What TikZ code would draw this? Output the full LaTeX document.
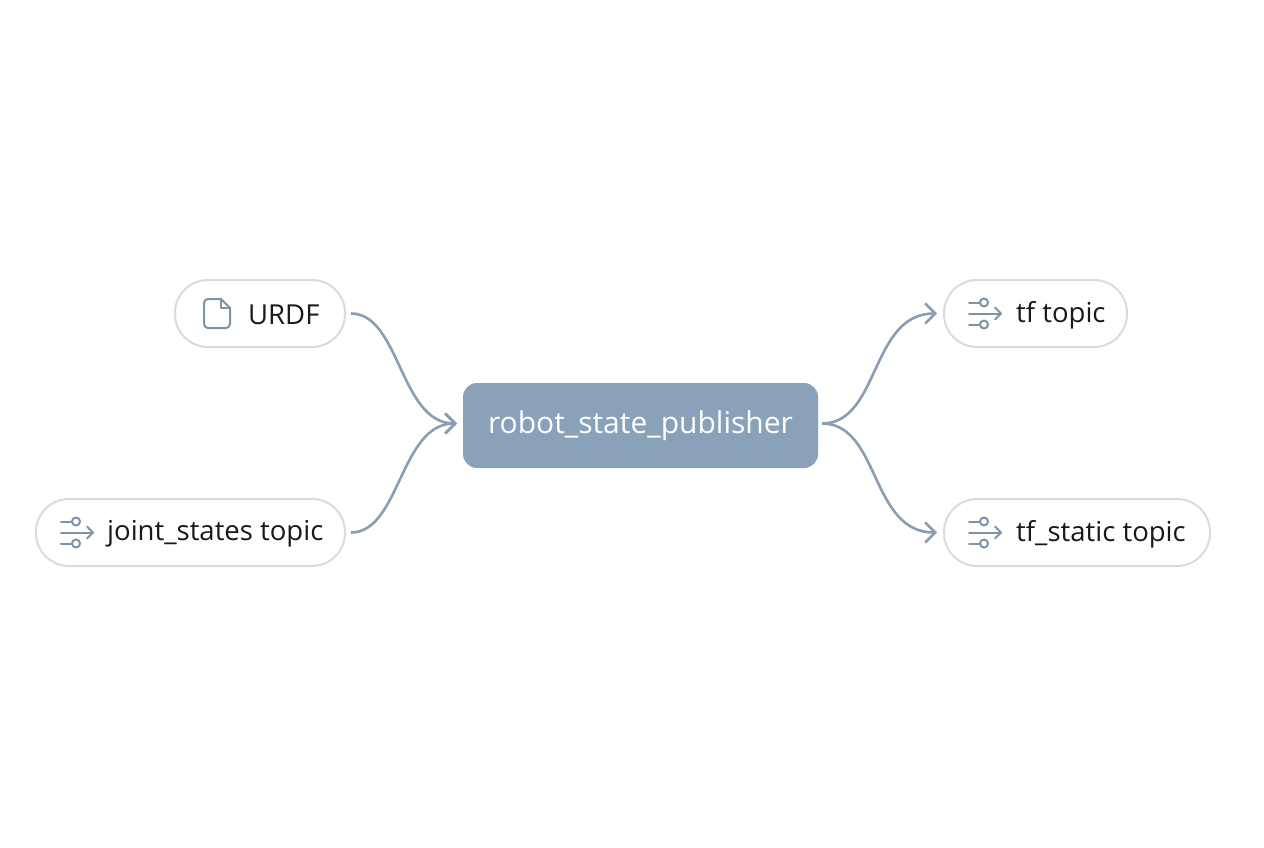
\documentclass[tikz,border=0pt]{standalone}
\usepackage{fontspec}
\setmainfont{Open Sans}
\usetikzlibrary{arrows.meta}
\definecolor{edge}{HTML}{8A9DB3}
\definecolor{bord}{HTML}{D9DBDE}
\definecolor{cfill}{HTML}{8AA1BA}
\definecolor{icon}{HTML}{7F93A8}
\begin{document}
\begin{tikzpicture}[x=1pt,y=-1pt,
  pill/.style={draw=bord,line width=2pt,rounded corners=33pt,minimum height=67pt,inner sep=0pt,fill=white},
  center/.style={fill=cfill,rounded corners=14pt,minimum width=355pt,minimum height=85pt,text=white,font=\fontsize{30}{36}\selectfont},
  lbl/.style={font=\fontsize{27.5}{32}\selectfont,text=black!90,inner sep=0pt,anchor=west},
  conn/.style={draw=edge,line width=2.6pt,-{Straight Barb[length=10pt,width=20pt,line width=2.6pt]}},
  ic/.style={draw=icon,line width=2pt,line cap=round,line join=round},
  topicicon/.pic={
    \draw[ic] (-16,-11)--(-6,-11); \draw[ic] (-1,-11) circle (4);
    \draw[ic] (-16,0)--(16,0); \draw[ic] (10,-6)--(16,0)--(10,6);
    \draw[ic] (-16,11)--(-6,11); \draw[ic] (-1,11) circle (4);
  }]
\useasboundingbox (0,0) rectangle (1264,848);
\fill[white] (0,0) rectangle (1264,848);
\node[pill,minimum width=170pt] (urdf) at (260,313.5) {};
\node[pill,minimum width=309pt] (joint) at (190.5,532.5) {};
\node[pill,minimum width=183pt] (tf) at (1035.5,313.5) {};
\node[pill,minimum width=266pt] (tfs) at (1077,532.5) {};
\node[center] (rsp) at (640.5,425.5) {robot\_state\_publisher};
% labels
\node[lbl] (l1) at (248,315) {URDF};
\node[lbl] (l2) at (107,534) {joint\_states topic};
\node[lbl] (l3) at (1016,315) {tf topic};
\node[lbl] (l4) at (1016,534) {tf\_static topic};
% icons
\draw[ic] (212,299)--(221,299)--(230,308)--(230,324) arc[start angle=0,end angle=90,radius=4] -- (208,328) arc[start angle=90,end angle=180,radius=4] -- (204,303) arc[start angle=180,end angle=270,radius=4] -- cycle;
\draw[ic] (221,299)--(221,308)--(230,308);
\pic at (77,532.5) {topicicon};
\pic at (985,313.5) {topicicon};
\pic at (985,532.5) {topicicon};
% connectors
\coordinate (a1) at ([xshift=5pt]urdf.east);
\coordinate (a2) at ([xshift=5pt]joint.east);
\coordinate (t) at (457,423.5);
\coordinate (s) at (822,423.5);
\coordinate (b1) at ([xshift=-6pt]tf.west);
\coordinate (b2) at ([xshift=-6pt]tfs.west);
\draw[conn] (a1) .. controls (400,313.5) and (400,423.5) .. (t);
\draw[conn] (a2) .. controls (400,532.5) and (400,423.5) .. (t);
\draw[conn] (s) .. controls (880,423.5) and (870,313.5) .. (b1);
\draw[conn] (s) .. controls (880,423.5) and (870,532.5) .. (b2);
\end{tikzpicture}
\end{document}
